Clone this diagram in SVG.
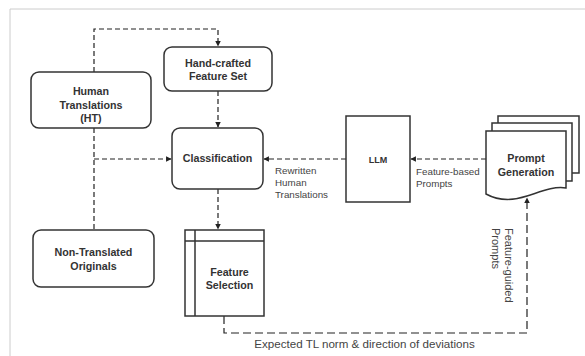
<svg xmlns="http://www.w3.org/2000/svg" width="585" height="356" viewBox="0 0 585 356">
<defs>
<style>
.box{fill:#fff;stroke:#333;stroke-width:1.5}
.t{font-family:"Liberation Sans",Arial,sans-serif;font-size:10.7px;font-weight:bold;fill:#333;text-anchor:middle}
.s{font-family:"Liberation Sans",Arial,sans-serif;font-size:9.8px;fill:#444}
.c{fill:none;stroke:#222;stroke-width:1.2;stroke-dasharray:5 3}
.c2{fill:none;stroke:#222;stroke-width:1.2;stroke-dasharray:8 4}
</style>
<marker id="ah" viewBox="0 0 10 10" refX="9" refY="5" markerWidth="5.5" markerHeight="5.5" orient="auto" markerUnits="userSpaceOnUse">
<path d="M0,0 L10,5 L0,10 Z" fill="#222"/>
</marker>
</defs>
<rect width="585" height="356" fill="#fff"/>
<path d="M10,356 V9 H585" fill="none" stroke="#ccc" stroke-width="1"/>

<g id="connectors">
<path class="c" d="M94,72 V29 H218 V46" marker-end="url(#ah)"/>
<path class="c" d="M218,91 V127" marker-end="url(#ah)"/>
<path class="c" d="M94,128 V230"/>
<path class="c" d="M94,159 H171" marker-end="url(#ah)"/>
<path class="c" d="M346,159 H264" marker-end="url(#ah)"/>
<path class="c" d="M486,159 H411" marker-end="url(#ah)"/>
<path class="c" d="M218,189 V229" marker-end="url(#ah)"/>
<path class="c2" d="M224,316 V333 H527 V198" marker-end="url(#ah)"/>
<text class="s" x="275" y="174">Rewritten</text>
<text class="s" x="275" y="186">Human</text>
<text class="s" x="275" y="198">Translations</text>
<text class="s" x="416" y="175">Feature-based</text>
<text class="s" x="416" y="187">Prompts</text>
<text class="s" transform="translate(505,228) rotate(90)" style="font-size:11px">Feature-guided</text>
<text class="s" transform="translate(492,228) rotate(90)" style="font-size:11px">Prompts</text>
<text class="s" x="364.5" y="348" style="font-size:11.6px;text-anchor:middle">Expected TL norm &amp; direction of deviations</text>
</g>

<g id="human-translations">
<rect class="box" x="31" y="72" width="120" height="56" rx="8"/>
<text class="t" x="91" y="95">Human</text>
<text class="t" x="91" y="108.5">Translations</text>
<text class="t" x="91" y="122">(HT)</text>
</g>

<g id="hand-crafted">
<rect class="box" x="164" y="47" width="108" height="44" rx="8"/>
<text class="t" x="218" y="67">Hand-crafted</text>
<text class="t" x="218" y="80">Feature Set</text>
</g>

<g id="classification">
<rect class="box" x="172" y="128" width="91" height="61" rx="8"/>
<text class="t" x="217.5" y="162">Classification</text>
</g>

<g id="non-translated">
<rect class="box" x="33" y="230" width="121" height="57" rx="8"/>
<text class="t" x="93.5" y="256">Non-Translated</text>
<text class="t" x="93.5" y="270">Originals</text>
</g>

<g id="feature-selection">
<rect class="box" x="185" y="230" width="79" height="86"/>
<path d="M195,230 V316 M185,241 H264" fill="none" stroke="#333" stroke-width="1.5"/>
<text class="t" x="229.5" y="276">Feature</text>
<text class="t" x="229.5" y="289">Selection</text>
</g>

<g id="llm">
<rect class="box" x="346" y="116" width="64" height="86"/>
<text class="t" x="378" y="162.5" style="font-size:9px">LLM</text>
</g>

<g id="prompt-generation">
<path class="box" d="M498,123 V116 H579 V173 H572"/>
<path class="box" d="M492,131 V123 H572 V181 H566"/>
<path class="box" d="M486,131 H566 V188 C553,186 540,192 527,196 C512,201 497,200 486,194 Z"/>
<text class="t" x="526" y="162">Prompt</text>
<text class="t" x="526" y="176">Generation</text>
</g>
</svg>
